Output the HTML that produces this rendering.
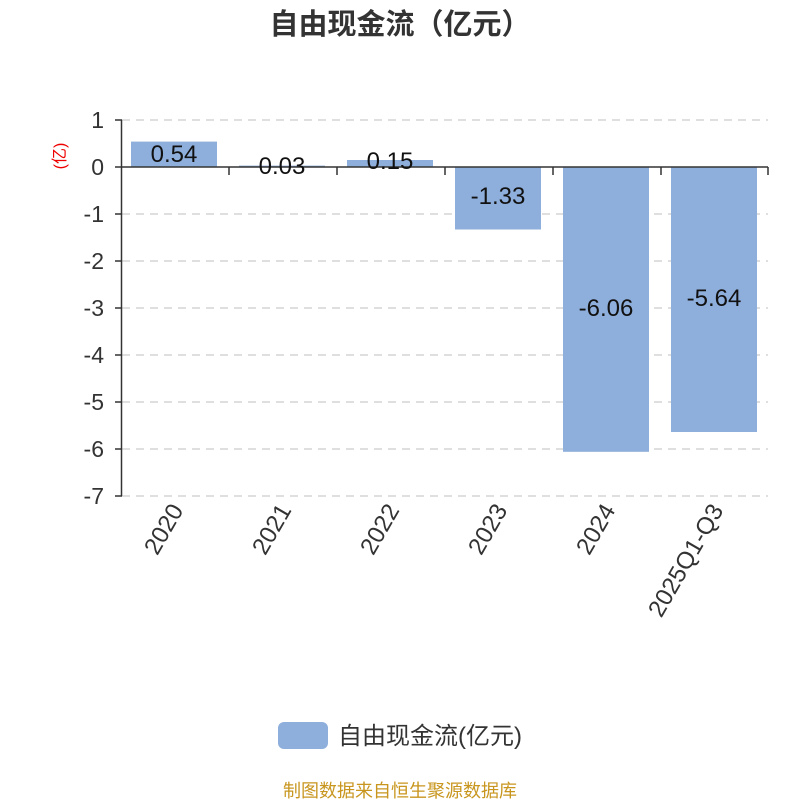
<!DOCTYPE html>
<html><head><meta charset="utf-8"><style>body{margin:0;background:#fff}svg{display:block}</style></head>
<body>
<svg width="800" height="800" xmlns="http://www.w3.org/2000/svg" font-family="'Liberation Sans','Noto Sans CJK SC',sans-serif">
<rect width="800" height="800" fill="#fff"/>
<text x="400" y="34" text-anchor="middle" font-size="29" font-weight="bold" fill="#333">自由现金流（亿元）</text>
<g stroke="#ccc" stroke-dasharray="8,6" stroke-width="1.3">
<line x1="122" y1="120" x2="768" y2="120"/>
<line x1="122" y1="214" x2="768" y2="214"/>
<line x1="122" y1="261" x2="768" y2="261"/>
<line x1="122" y1="308" x2="768" y2="308"/>
<line x1="122" y1="355" x2="768" y2="355"/>
<line x1="122" y1="402" x2="768" y2="402"/>
<line x1="122" y1="449" x2="768" y2="449"/>
<line x1="122" y1="496" x2="768" y2="496"/>
</g>
<g fill="#8eaedb">
<rect x="131" y="141.6" width="86" height="25.4"/>
<rect x="239" y="165.6" width="86" height="1.4"/>
<rect x="347" y="160" width="86" height="7"/>
<rect x="455" y="167" width="86" height="62.5"/>
<rect x="563" y="167" width="86" height="284.8"/>
<rect x="671" y="167" width="86" height="265"/>
</g>
<g stroke="#333" stroke-width="1.5">
<line x1="121.5" y1="120" x2="121.5" y2="496"/>
<line x1="121" y1="167" x2="768" y2="167"/>
<line x1="115" y1="120" x2="122" y2="120"/>
<line x1="115" y1="167" x2="122" y2="167"/>
<line x1="115" y1="214" x2="122" y2="214"/>
<line x1="115" y1="261" x2="122" y2="261"/>
<line x1="115" y1="308" x2="122" y2="308"/>
<line x1="115" y1="355" x2="122" y2="355"/>
<line x1="115" y1="402" x2="122" y2="402"/>
<line x1="115" y1="449" x2="122" y2="449"/>
<line x1="115" y1="496" x2="122" y2="496"/>
<line x1="229" y1="167" x2="229" y2="175"/>
<line x1="337" y1="167" x2="337" y2="175"/>
<line x1="445" y1="167" x2="445" y2="175"/>
<line x1="553" y1="167" x2="553" y2="175"/>
<line x1="661" y1="167" x2="661" y2="175"/>
<line x1="768" y1="167" x2="768" y2="175"/>
</g>
<g font-size="23" fill="#333" text-anchor="end">
<text x="104" y="128">1</text>
<text x="104" y="175">0</text>
<text x="104" y="222">-1</text>
<text x="104" y="269">-2</text>
<text x="104" y="316">-3</text>
<text x="104" y="363">-4</text>
<text x="104" y="410">-5</text>
<text x="104" y="457">-6</text>
<text x="104" y="504">-7</text>
</g>
<text transform="translate(65,156) rotate(-90)" text-anchor="middle" font-size="16" fill="#e00">(亿)</text>
<g font-size="24" fill="#111" text-anchor="middle">
<text x="174" y="162">0.54</text>
<text x="282" y="174">0.03</text>
<text x="390" y="169">0.15</text>
<text x="498" y="204">-1.33</text>
<text x="606" y="316">-6.06</text>
<text x="714" y="306">-5.64</text>
</g>
<g font-size="24" fill="#333" text-anchor="end">
<text transform="translate(184,510) rotate(-60)">2020</text>
<text transform="translate(292,510) rotate(-60)">2021</text>
<text transform="translate(400,510) rotate(-60)">2022</text>
<text transform="translate(508,510) rotate(-60)">2023</text>
<text transform="translate(616,510) rotate(-60)">2024</text>
<text transform="translate(724,510) rotate(-60)">2025Q1-Q3</text>
</g>
<rect x="278" y="722" width="50" height="27" rx="6" fill="#8eaedb"/>
<text x="338" y="744" font-size="24" fill="#333">自由现金流(亿元)</text>
<text x="400" y="797" text-anchor="middle" font-size="18" fill="#c8961e">制图数据来自恒生聚源数据库</text>
</svg>
</body></html>
